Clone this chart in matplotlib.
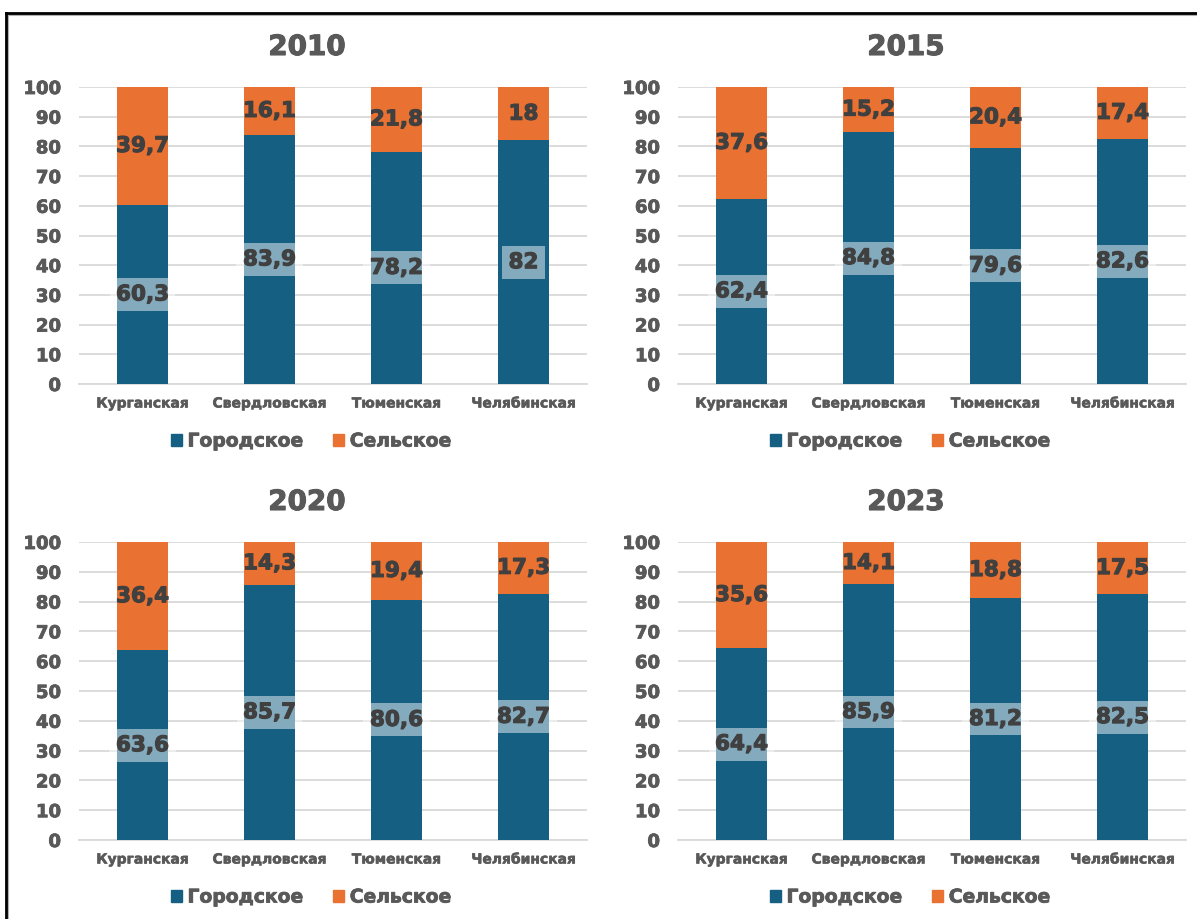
import matplotlib
matplotlib.use("Agg")
import matplotlib.pyplot as plt
import matplotlib.patheffects as pe
from matplotlib.patches import Rectangle
from matplotlib.lines import Line2D

# Доля городского и сельского населения по областям, %
regions = ["Курганская", "Свердловская", "Тюменская", "Челябинская"]
years = ["2010", "2015", "2020", "2023"]
urban_2010 = [60.3, 83.9, 78.2, 82]
rural_2010 = [39.7, 16.1, 21.8, 18]
urban_2015 = [62.4, 84.8, 79.6, 82.6]
rural_2015 = [37.6, 15.2, 20.4, 17.4]
urban_2020 = [63.6, 85.7, 80.6, 82.7]
rural_2020 = [36.4, 14.3, 19.4, 17.3]
urban_2023 = [64.4, 85.9, 81.2, 82.5]
rural_2023 = [35.6, 14.1, 18.8, 17.5]
series_names = ["Городское", "Сельское"]

data = {
    "2010": (urban_2010, rural_2010),
    "2015": (urban_2015, rural_2015),
    "2020": (urban_2020, rural_2020),
    "2023": (urban_2023, rural_2023),
}

BLUE = "#156082"
ORANGE = "#E97132"
GRID = "#D9D9D9"
TICK_C = "#595959"
LABEL_C = "#404040"

plt.rcParams["font.family"] = "DejaVu Sans"
plt.rcParams["font.weight"] = "bold"

W, H = 1197, 919
fig = plt.figure(figsize=(W / 100, H / 100), dpi=100)


def fmt(v):
    s = f"{v:.1f}".replace(".", ",")
    return s[:-2] if s.endswith(",0") else s


def heavy(color, w):
    # обводка тем же цветом, чтобы шрифт выглядел жирнее
    return [pe.Stroke(linewidth=w, foreground=color), pe.Normal()]


# положение областей графиков в пикселях: (лево, верх оси 100, низ оси 0)
panels = [
    (79, 87, 384),
    (678, 87, 384),
    (79, 542, 840),
    (678, 542, 840),
]
axis_w = 508

for (left, top, bottom), year in zip(panels, years):
    urban, rural = data[year]
    ax = fig.add_axes([left / W, 1 - bottom / H, axis_w / W, (bottom - top) / H])
    x = range(len(regions))
    ax.bar(x, urban, width=0.4, color=BLUE, zorder=2)
    ax.bar(x, rural, width=0.4, bottom=urban, color=ORANGE, zorder=2)

    for i, (u, r) in enumerate(zip(urban, rural)):
        ax.text(i, u / 2, fmt(u), ha="center", va="center", fontsize=15.5,
                fontweight="bold", color=LABEL_C, zorder=3,
                path_effects=heavy(LABEL_C, 0.8),
                bbox=dict(boxstyle="square,pad=0.3", facecolor="white",
                          edgecolor="none", alpha=0.48))
        ax.text(i, u + r / 2, fmt(r), ha="center", va="center", fontsize=15.5,
                fontweight="bold", color=LABEL_C, zorder=3,
                path_effects=heavy(LABEL_C, 0.8))

    ax.set_xlim(-0.5, len(regions) - 0.5)
    ax.set_ylim(0, 100)
    ax.set_yticks(range(0, 101, 10))
    ax.set_xticks(list(x))
    ax.set_xticklabels(regions, fontsize=10, fontweight="bold", color=TICK_C)
    ax.tick_params(axis="x", length=0, pad=9)
    ax.tick_params(axis="y", length=0, pad=13, labelsize=13, labelcolor=TICK_C)
    for lab in ax.get_yticklabels():
        lab.set_fontweight("bold")
        lab.set_path_effects(heavy(TICK_C, 0.6))
    for lab in ax.get_xticklabels():
        lab.set_path_effects(heavy(TICK_C, 0.4))
    ax.grid(axis="y", color=GRID, linewidth=1.3, zorder=0)
    for side in ["top", "right", "left"]:
        ax.spines[side].set_visible(False)
    ax.spines["bottom"].set_color(GRID)
    ax.spines["bottom"].set_linewidth(1.3)
    ax.spines["bottom"].set_zorder(1)

    cx = left - 79 + 307
    fig.text(cx / W, 1 - (top - 40) / H, year, ha="center", va="center",
             fontsize=20, fontweight="bold", color=TICK_C,
             path_effects=heavy(TICK_C, 0.8))

    handles = [Rectangle((0, 0), 1, 1, color=BLUE), Rectangle((0, 0), 1, 1, color=ORANGE)]
    leg = ax.legend(handles, series_names, loc="center", ncol=2, frameon=False,
                    bbox_to_anchor=((cx + 4) / W, 1 - (bottom + 57) / H),
                    bbox_transform=fig.transFigure,
                    prop={"size": 13.5, "weight": "bold"}, labelcolor=TICK_C,
                    handlelength=0.6, handleheight=0.6, handletextpad=0.3,
                    columnspacing=1.6)
    for t in leg.get_texts():
        t.set_path_effects(heavy(TICK_C, 0.6))

# рамка вокруг рисунка
fig.add_artist(Line2D([8 / W, 1], [1 - 15 / H, 1 - 15 / H], color="#B0B0B0",
                      linewidth=1.5, transform=fig.transFigure))
fig.add_artist(Line2D([8 / W, 8 / W], [0, 1 - 15 / H], color="#B0B0B0",
                      linewidth=1.5, transform=fig.transFigure))
fig.add_artist(Line2D([6 / W, 1], [1 - 13 / H, 1 - 13 / H], color="black",
                      linewidth=2, transform=fig.transFigure))
fig.add_artist(Line2D([6 / W, 6 / W], [0, 1 - 13 / H], color="black",
                      linewidth=2, transform=fig.transFigure))

fig.savefig("out.png", dpi=100, facecolor="white")
